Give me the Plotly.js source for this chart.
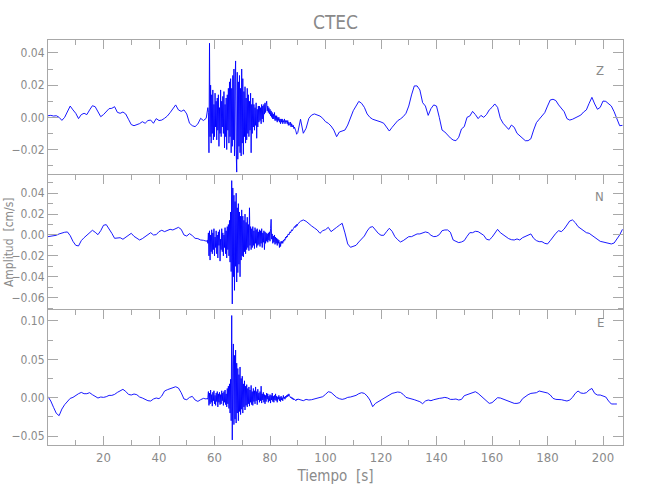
<!DOCTYPE html>
<html>
<head>
<meta charset="utf-8">
<script src="https://cdn.plot.ly/plotly-3.0.1.min.js"></script>
<style>html,body{margin:0;padding:0;background:#fff;}#chart{width:650px;height:500px;}</style>
</head>
<body>
<div id="chart"></div>
<script>
// ---- Data (in units of 0.001 cm/s) ----
// Each trace: quiet part A sampled every 1 s from t=0 s, burst sampled every 0.2 s from t=57.2 s,
// quiet part B sampled every 1 s from t=90 s.
const quietAStart = 0, quietStep = 1;
const burstStart = 57.2, burstStep = 0.2;
const quietBStart = 90;
const unit = 0.001;

const zQuietA = [1.0,1.2,0.8,1.0,0.0,-1.9,0.0,4.0,7.0,4.6, 2.5,-0.8,1.7,2.5,1.7,4.6,7.2,6.6,3.3,0.4,
  1.7,3.5,5.4,5.6,6.6,3.1,2.5,3.3,2.1,-1.2, -4.5,-5.2,-4.5,-3.9,-2.7,-3.7,-2.0,-1.7,-3.7,-0.8,
  -2.0,-1.7,-0.6,0.8,2.9,5.2,7.7,4.6,3.7,4.6, 2.1,-3.7,-5.2,-5.8,-4.1,-0.6,-2.0,-0.6];
const zBurst = [2,4,6,3,-22, 46,-12,20,-16,14, -10,17,-14,8,-12, 15,-6,10,-14,12,
  -8,14,-18,6,-10, 17,-12,10,-6,13, -10,16,-19,8,-12, 12,-20,14,-8,18,
  -16,22,-12,24,-22, 18,-18,26,-14,30, -24,22,35,-20,-34, 28,-26,22,-18,26,
  -22,18,-24,30,-16, 24,-23,16,-12,19, -16,12,-14,18,-10, 14,-12,10,-8,15,
  -22,8,-10,12,-6, 8,-8,6,-5,9, -13,5,-6,7,-3, 7,-2,6,-4,8,
  -1,7,-3,8,2, 9,3,8,10,4, 7,3,6,2,5, 1,4,0,3,-1,
  2,-1,3,-2,1, -2,1,-3,0,-2, 0,-3,-1,-4,-1, -3,-1,-4,-2,-3,
  -1,-4,-2,-3,-2, -4,-2,-5,-3,-4, -5,-3,-6,-4,-5, -6,-5,-7,-6,-8, -8,-9,-10.5,-10];
const zQuietB = [-9.5,-1.2,-9.9,-6.8,-0.6,1.4,2.1,1.4,0.8,-0.6, -2.7,-3.7,-5.4,-7.9,-12.0,-9.1,-8.3,-7.9,-4.8,0,
  4.1,7.0,9.9,8.7,6.2,2.1,0,-1.2,-1.7,-2.5, -2.9,-3.7,-5.8,-8.5,-6.2,-4.1,-2.1,-1.0,0.4,2.5,
  7.0,13.9,19.5,19.5,17.0,9.1,7.0,1.2,5.4,7.7, 7.0,0,-7.9,-9.1,-11.0,-12.8,-14.1,-14.5,-12.4,-7.2,
  -5.8,0,0.8,3.7,1.7,-0.8,1.2,0,1.7,4.6, 6.2,8.3,6.2,-0.6,-3.7,-5.8,-7.5,-4.8,-6.2,-9.9,
  -11.6,-13.3,-14.5,-14.5,-13.3,-7.9,-3.3,-1.2,1.2,2.9, 7.0,10.8,11.2,10.4,7.7,5.6,3.5,-0.8,-1.7,-1.2,
  -0.4,0.4,1.4,3.3,4.6,8.7,12.4,8.3,5.0,6.2, 10.1,9.9,8.3,7.0,3.5,-0.6,-5.2,-5.0];

const nQuietA = [-1.6,-1.3,-1.0,-0.3,1.0,1.9,2.6,2.9,-0.6,-6.1, -9.9,-10.5,-5.4,-2.6,-0.3,2.6,4.5,2.6,0.3,4.1,
  9.3,9.9,6.1,1.6,-3.2,-3.2,-2.6,-4.1,-2.2,0, 1.6,-1.3,-3.2,-4.8,-3.5,-1.3,0,2.2,0,0.3,
  3.2,4.5,3.2,4.1,5.4,4.8,6.1,7.3,5.4,0, -1.0,1.3,-0.6,-3.2,-3.5,-4.8,-5.1,-6.4];
const nBurst = [-6,-5,-8,2,-20, 4,-24,0,-16,5, -18,2,-14,6,-20, -2,-12,4,-18,0,
  -22,3,-10,5,-25, -4,-14,6,-16,2, -20,0,-12,7,-18, 4,-22,8,-14,10,
  -20,14,-26,22,-35, 52,-66,45,-40,38, -53,32,-30,40,-45, 26,-36,30,-28,22,
  -40,18,-24,24,-20, 18,-21,14,-16,20, -18,12,-14,17,-12, 10,-15,26,-10,8,
  -14,6,-12,8,-10, 4,-13,7,-8,5, -12,6,-10,3,-9, 5,-11,4,-8,6,
  -12,2,-7,4,-14, 3,-8,2,-6,1, -7,2,-5,3,-6, 6,15,-4,1,-8,
  -1,-7,0,-9,-2, -8,-3,-10,-4,-8, -5,-12,-7,-11,-6, -8,-6,-8,-5,-6,
  -4,-5,-2,-3,-1, -2,0,1,0,2, 3,2,4,5,4, 6,6,7,8,7, 9,8,10,9];
const nQuietB = [10.5,13.1,14.4,13.1,10.5,8.6,6.7,4.8,1.6,4.1, 5.1,7.3,3.2,5.7,7.3,9.3,11.2,2.0,-8.6,-11.8,
  -11.2,-9.9,-6.7,-3.5,-1.0,3.8,7.3,8.0,4.8,1.6, -0.3,-0.3,3.2,6.4,3.5,-1.6,-4.5,-6.7,-5.4,-3.2,
  -1.6,-1.6,-0.3,1.0,1.0,2.2,2.9,2.2,-0.3,-1.6, -1.3,0.3,4.1,4.8,4.8,2.6,-4.8,-6.1,-7.3,-6.7,
  -5.4,-1.3,2.2,2.2,3.5,3.2,1.0,-0.3,-4.1,-4.8, -2.2,1.6,5.4,2.2,0,-1.9,-3.5,-4.5,-4.8,-3.8,
  -4.8,-2.6,-1.3,0,1.0,-3.2,-5.4,-6.4,-6.4,-8.0, -8.6,-5.4,-1.6,1.6,4.1,3.2,5.7,9.6,13.4,14.4,
  11.8,8.0,6.1,3.8,2.2,1.6,-0.3,-1.6,-4.1,-6.1, -6.7,-7.3,-8.6,-8.6,-7.7,-4.1,0,5.4];

const eQuietA = [1.3,-4.3,-12.6,-20.4,-23.4,-14.8,-9.1,-4.8,-0.9,0.4, 3.0,5.2,6.9,5.2,5.2,6.5,3.9,1.3,-0.4,0.9,
  0.4,1.3,3.0,3.0,4.3,6.9,9.1,10.9,8.2,4.3, 3.5,4.8,3.9,0.9,-0.4,-2.6,-3.9,-4.3,-1.7,-0.4,
  -1.3,2.2,8.7,10.4,11.7,12.6,14.3,12.6,6.5,-1.7, -2.6,0.4,1.7,-3.0,-4.8,-2.6,-0.9,-1.7];
const eBurst = [-1,-2,0,8,-10, 6,-8,10,-6,4, -11,7,-4,9,-8, 3,-10,6,-5,8,
  -12,5,-6,7,-9, 4,-8,9,-4,6, -10,8,-6,10,-9, 5,-12,12,-8,15,
  -14,18,-20,24,-30, 107,-55,40,70,-35, 55,-28,62,-33,45, -20,38,-30,30,-18,
  40,-22,25,-15,28, -20,18,-12,22,-16, 15,-10,17,-12,12, -8,14,-11,10,-6,
  16,-9,8,-10,12, -5,9,-8,14,-4, 8,-9,11,-3,6, -6,8,-4,15,-7,
  5,-3,7,-6,4, -8,3,-5,6,-2, 5,-6,2,-4,4, -7,3,-3,6,-5,
  2,-6,3,-3,5, -4,2,-6,1,-2, 3,-4,1,-5,2, -3,0,-4,3,-1,
  1,-2,2,0,3, 1,4,2,5,3, 2,0,1,-1,0, -2,-1,-3,-2,-3, -3,-4,-2,-3];
const eQuietB = [-1.7,-3.0,-3.9,-2.2,-3.0,-2.6,-1.7,-0.9,0.4,1.3, 4.3,7.8,6.9,3.5,0.4,-1.3,-2.2,-1.3,0.4,0.9,
  1.7,3.0,5.2,6.5,5.6,2.2,-3.0,-11.7,-7.4,-5.2, -2.6,-0.4,2.2,3.9,5.6,6.5,7.4,6.9,4.3,0.4,
  -0.4,-0.9,-2.6,-3.9,-5.2,-7.8,-4.3,-3.0,-3.9,-2.6, -1.3,-0.9,-0.4,0.4,-0.4,-2.2,-2.2,-1.7,-3.0,-2.2,
  2.6,3.9,5.6,6.9,7.8,5.6,2.2,-1.7,-4.8,-7.4, -6.5,-2.6,0,-0.4,-1.7,-3.9,-4.8,-6.1,-7.4,-7.4,
  -6.5,-1.3,1.7,3.9,5.6,6.5,6.5,8.7,7.8,6.9, 6.1,3.5,-0.9,-2.2,-2.2,-2.6,-3.5,-4.3,-3.0,0.4,
  5.6,8.7,6.1,5.6,6.5,10.0,12.0,5.6,3.5,3.5, 2.2,0.9,-4.3,-8.2,-8.2,-8.2];

const xTickVals = [20,40,60,80,100,120,140,160,180,200];
const panelNames = ['Z','N','E'];

// ---- Build series ----
function series(qa, b, qb) {
  const x = [], y = [];
  qa.forEach((v,i) => { x.push(quietAStart + i*quietStep); y.push(v*unit); });
  b.forEach((v,i) => { x.push(+(burstStart + i*burstStep).toFixed(2)); y.push(v*unit); });
  qb.forEach((v,i) => { x.push(quietBStart + i*quietStep); y.push(v*unit); });
  return {x, y};
}
const Z = series(zQuietA, zBurst, zQuietB);
const N = series(nQuietA, nBurst, nQuietB);
const E = series(eQuietA, eBurst, eQuietB);

const lineStyle = {color:'rgb(0,0,255)', width:0.9};
const data = [
  {type:'scatter', mode:'lines', x:Z.x, y:Z.y, xaxis:'x3', yaxis:'y3', line:lineStyle, hoverinfo:'skip'},
  {type:'scatter', mode:'lines', x:N.x, y:N.y, xaxis:'x2', yaxis:'y2', line:lineStyle, hoverinfo:'skip'},
  {type:'scatter', mode:'lines', x:E.x, y:E.y, xaxis:'x', yaxis:'y', line:lineStyle, hoverinfo:'skip'}
];

const FONT = '"Liberation Sans Narrow", "DejaVu Sans Condensed", "Liberation Sans", sans-serif';
const TXT = '#8a8a8a', AX = '#a8a8a8';

function xax(anchor, side, mirror, labels) {
  return {
    anchor: anchor, side: side, range:[0, 207.2], showline:true, linecolor:AX, linewidth:1, mirror:mirror,
    ticks:'inside', ticklen:9, tickcolor:AX, tickwidth:1,
    tickmode:'array', tickvals:xTickVals, showticklabels:labels,
    minor:{tickmode:'linear', tick0:0, dtick:10, ticks:'inside', ticklen:5, tickcolor:AX, tickwidth:1},
    showgrid:false, zeroline:false, tickfont:{family:FONT, size:13, color:TXT}
  };
}
function yax(domain, range, dtick, minor) {
  return {
    domain: domain, range: range, showline:true, linecolor:AX, linewidth:1, mirror:'ticks',
    ticks:'inside', ticklen:10, tickcolor:AX, tickwidth:1, tick0:0, dtick:dtick, tickformat:'.2f',
    minor:{dtick:minor, ticks:'inside', ticklen:5, tickcolor:AX, tickwidth:1},
    showgrid:false, zeroline:false, tickfont:{family:FONT, size:12, color:TXT}
  };
}

const xa1 = xax('y', 'bottom', 'ticks', true);
xa1.title = {text:'Tiempo  [s]', font:{family:FONT, size:15, color:TXT}, standoff:6};
const xa2 = xax('y2', 'top', false, false); xa2.matches = 'x';
const xa3 = xax('y3', 'top', false, false); xa3.matches = 'x';

const layout = {
  width:650, height:500, autosize:false,
  margin:{l:48, r:27, t:40, b:55},
  paper_bgcolor:'#ffffff', plot_bgcolor:'#ffffff', showlegend:false,
  title:{text:'CTEC', font:{family:FONT, size:19, color:TXT}, x:0.5, xref:'paper', y:0.955, yref:'container', yanchor:'middle'},
  xaxis: xa1, xaxis2: xa2, xaxis3: xa3,
  yaxis: yax([0, 1/3], [-0.0616, 0.1142], 0.05, 0.025),
  yaxis2: yax([1/3, 2/3], [-0.0718, 0.0574], 0.02, 0.01),
  yaxis3: yax([2/3, 1], [-0.0358, 0.048], 0.02, 0.01),
  annotations: [
    {text:'Amplitud  [cm/s]', xref:'paper', yref:'paper', x:-0.0685, y:0.5, xanchor:'center', yanchor:'middle',
     textangle:-90, showarrow:false, font:{family:FONT, size:12, color:TXT}},
    {text:panelNames[0], xref:'paper', yref:'paper', x:0.970, y:0.948, showarrow:false, font:{family:FONT, size:13, color:TXT}},
    {text:panelNames[1], xref:'paper', yref:'paper', x:0.970, y:0.614, showarrow:false, font:{family:FONT, size:13, color:TXT}},
    {text:panelNames[2], xref:'paper', yref:'paper', x:0.970, y:0.280, showarrow:false, font:{family:FONT, size:13, color:TXT}}
  ]
};

Plotly.newPlot('chart', data, layout, {staticPlot:true, displayModeBar:false});
</script>
</body>
</html>
